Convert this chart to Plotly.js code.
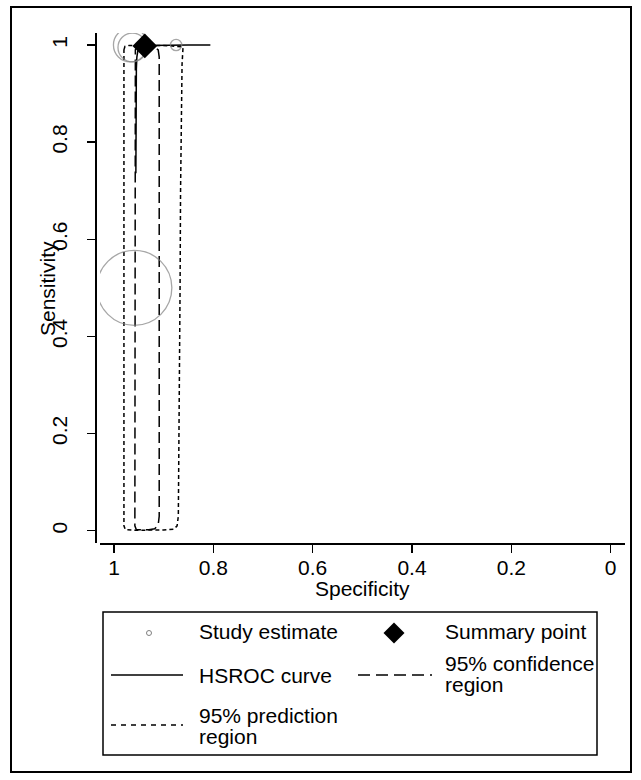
<!DOCTYPE html>
<html><head><meta charset="utf-8">
<script src="https://cdn.plot.ly/plotly-3.0.1.min.js"></script>
<style>html,body{margin:0;padding:0;background:#fff}#chart{width:641px;height:780px}</style>
</head><body><div id="chart"></div>
<script>
// ---- data ----
const studySpec   = [0.959, 0.967, 0.963, 0.875];
const studySens   = [0.500, 1.000, 0.995, 1.000];
const studyWeight = [44, 9, 6.5, 1];

const summarySpec = [0.938];
const summarySens = [0.998];

const hsrocSpec = [0.956, 0.956, 0.9555, 0.955, 0.954, 0.952, 0.948, 0.942, 0.930, 0.910, 0.880, 0.850, 0.806];
const hsrocSens = [0.736, 0.820, 0.900, 0.950, 0.975, 0.988, 0.994, 0.997, 0.999, 0.9995, 1.000, 1.000, 1.000];

const confSpec = [0.945, 0.930, 0.918, 0.911, 0.909, 0.909, 0.909, 0.909, 0.909, 0.909, 0.911, 0.918, 0.930, 0.945, 0.955, 0.958, 0.958, 0.958, 0.958, 0.958, 0.957, 0.953, 0.945];
const confSens = [0.998, 0.997, 0.995, 0.990, 0.975, 0.900, 0.700, 0.400, 0.100, 0.030, 0.012, 0.004, 0.002, 0.0015, 0.002, 0.010, 0.100, 0.500, 0.900, 0.970, 0.990, 0.996, 0.998];

const predSpec = [0.980, 0.978, 0.970, 0.950, 0.920, 0.890, 0.870, 0.861, 0.863, 0.864, 0.866, 0.867, 0.868, 0.8695, 0.8705, 0.873, 0.880, 0.900, 0.930, 0.960, 0.977, 0.980, 0.980, 0.980, 0.980];
const predSens = [0.990, 0.997, 0.999, 0.9993, 0.9992, 0.9985, 0.9975, 0.996, 0.960, 0.900, 0.700, 0.500, 0.300, 0.100, 0.030, 0.010, 0.003, 0.0015, 0.001, 0.001, 0.002, 0.010, 0.300, 0.700, 0.990];

const xTickVals = [1, 0.8, 0.6, 0.4, 0.2, 0];
const xTickText = ['1', '0.8', '0.6', '0.4', '0.2', '0'];
const yTickVals = [0, 0.2, 0.4, 0.6, 0.8, 1];
const yTickText = ['0', '0.2', '0.4', '0.6', '0.8', '1'];

const xTitle = 'Specificity';
const yTitle = 'Sensitivity';
const legendLabels = ['Study estimate', 'Summary point', 'HSROC curve', ['95% confidence', 'region'], ['95% prediction', 'region']];

// ---- layout helpers ----
const W = 641, H = 780;
const px = v => v / W;
const py = v => 1 - v / H;
const FONT = 'Liberation Sans, Arial, sans-serif';
const FS = 21;
const GRAY = '#808080';
const CONF_DASH = '11px,5px';
const PRED_DASH = '4px,3px';

const traces = [
  {x: predSpec, y: predSens, mode: 'lines', line: {color: '#000', width: 1.5, dash: PRED_DASH}, hoverinfo: 'skip'},
  {x: confSpec, y: confSens, mode: 'lines', line: {color: '#000', width: 1.5, dash: CONF_DASH}, hoverinfo: 'skip'},
  {x: hsrocSpec, y: hsrocSens, mode: 'lines', line: {color: '#000', width: 1.5}, hoverinfo: 'skip'},
  {x: studySpec, y: studySens, mode: 'markers',
   marker: {symbol: 'circle-open', size: studyWeight, sizemode: 'area', sizeref: 44 / (53 * 53), color: GRAY, line: {color: GRAY, width: 1.3}}},
  {x: summarySpec, y: summarySens, mode: 'markers', marker: {symbol: 'diamond', size: 19, color: '#000', line: {width: 0}}}
];

const tickfont = {family: FONT, size: FS, color: '#000'};
const ann = (text, x, y, opts) => Object.assign({
  text: text, x: px(x), y: py(y), xref: 'paper', yref: 'paper', showarrow: false,
  xanchor: 'left', yanchor: 'middle', font: {family: FONT, size: FS, color: '#000'}
}, opts || {});

const shapes = [
  // outer frame
  {type: 'rect', xref: 'paper', yref: 'paper', x0: px(11), x1: px(631), y0: py(7), y1: py(772), line: {color: '#000', width: 2}},
  // legend box
  {type: 'rect', xref: 'paper', yref: 'paper', x0: px(103), x1: px(597), y0: py(612), y1: py(755), line: {color: '#000', width: 1.5}},
  // legend samples
  {type: 'circle', xref: 'paper', yref: 'paper', x0: px(146.5), x1: px(151.5), y0: py(630.5), y1: py(635.5), line: {color: GRAY, width: 1}},
  {type: 'path', xref: 'paper', yref: 'paper', fillcolor: '#000', line: {width: 0},
   path: `M ${px(394)} ${py(622.5)} L ${px(404.5)} ${py(633)} L ${px(394)} ${py(643.5)} L ${px(383.5)} ${py(633)} Z`},
  {type: 'line', xref: 'paper', yref: 'paper', x0: px(111), x1: px(183), y0: py(675), y1: py(675), line: {color: '#000', width: 1.5}},
  {type: 'line', xref: 'paper', yref: 'paper', x0: px(358), x1: px(432), y0: py(675), y1: py(675), line: {color: '#000', width: 1.5, dash: '12px,6px'}},
  {type: 'line', xref: 'paper', yref: 'paper', x0: px(111), x1: px(183), y0: py(725), y1: py(725), line: {color: '#000', width: 1.5, dash: '5px,5px'}}
];

const annotations = [
  ann(xTitle, 362, 588, {xanchor: 'center'}),
  ann(yTitle, 47, 289, {xanchor: 'center', textangle: -90}),
  ann(legendLabels[0], 197, 631),
  ann(legendLabels[1], 443, 631),
  ann(legendLabels[2], 197, 675),
  ann(legendLabels[3][0], 443, 663),
  ann(legendLabels[3][1], 443, 684),
  ann(legendLabels[4][0], 197, 715),
  ann(legendLabels[4][1], 197, 736)
];

const layout = {
  width: W, height: H,
  margin: {l: 0, r: 0, t: 0, b: 0, pad: 0},
  paper_bgcolor: '#fff', plot_bgcolor: '#fff',
  showlegend: false,
  xaxis: {
    domain: [px(100), px(625)], range: [1.0282, -0.0288], anchor: 'y',
    tickvals: xTickVals, ticktext: xTickText, ticks: 'outside', ticklen: 8, tickwidth: 1.5, tickcolor: '#000',
    ticklabelstandoff: -3,
    showline: true, linecolor: '#000', linewidth: 1.5, showgrid: false, zeroline: false, tickfont: tickfont
  },
  yaxis: {
    domain: [1 - 543 / H, 1 - 33 / H], range: [-0.0253, 1.0247], anchor: 'free', position: px(95),
    tickvals: yTickVals, ticktext: yTickText, ticks: 'outside', ticklen: 8, tickwidth: 1.5, tickcolor: '#000',
    tickangle: -90, ticklabelstandoff: 12,
    showline: true, linecolor: '#000', linewidth: 1.5, showgrid: false, zeroline: false, tickfont: tickfont
  },
  shapes: shapes,
  annotations: annotations
};

Plotly.newPlot('chart', traces, layout, {displayModeBar: false, staticPlot: true});
</script>
</body></html>
